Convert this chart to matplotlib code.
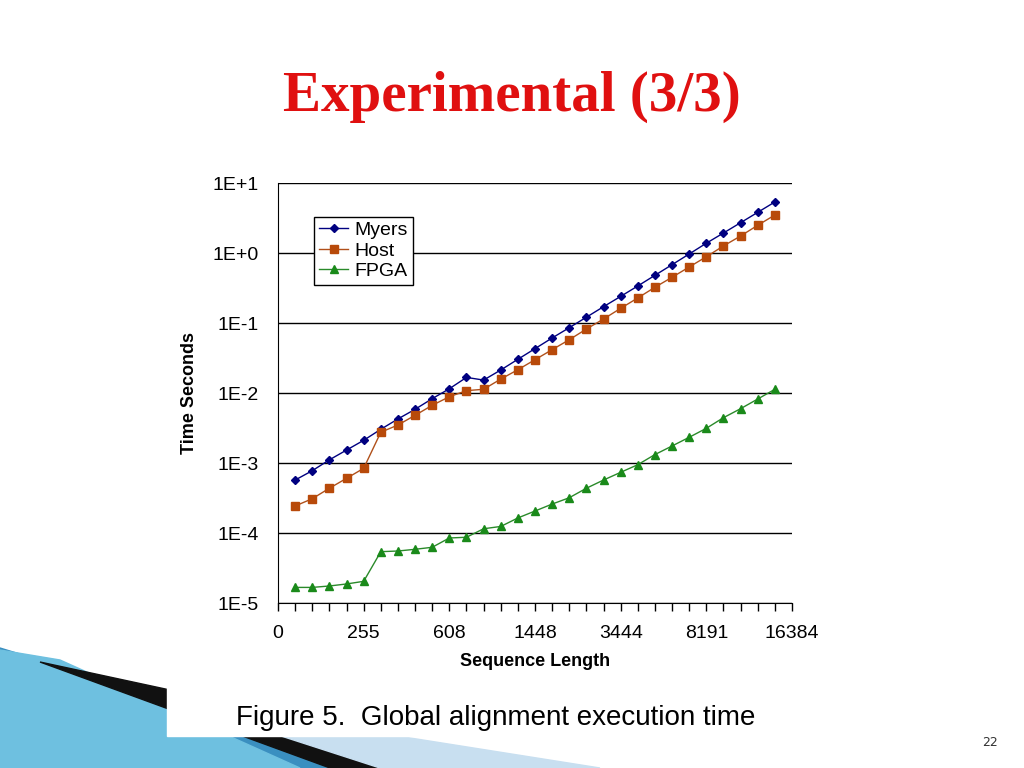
import matplotlib
matplotlib.use("Agg")
import matplotlib.pyplot as plt
from matplotlib.patches import Polygon, Rectangle

x_labels = ["0", "255", "608", "1448", "3444", "8191", "16384"]
positions = list(range(1, 30))
myers = [5.71e-4, 7.76e-4, 1.11e-3, 1.53e-3, 2.11e-3, 3.03e-3, 4.26e-3, 5.85e-3, 8.30e-3,
         1.15e-2, 1.67e-2, 1.53e-2, 2.13e-2, 3.03e-2, 4.30e-2, 6.11e-2, 8.57e-2, 0.121, 0.171,
         0.240, 0.338, 0.480, 0.681, 0.968, 1.38, 1.93, 2.71, 3.81, 5.36]
host = [2.43e-4, 3.09e-4, 4.36e-4, 6.04e-4, 8.39e-4, 2.75e-3, 3.49e-3, 4.80e-3, 6.67e-3,
        8.85e-3, 1.08e-2, 1.13e-2, 1.58e-2, 2.15e-2, 2.99e-2, 4.16e-2, 5.77e-2, 8.20e-2, 0.114,
        0.162, 0.228, 0.324, 0.450, 0.631, 0.885, 1.26, 1.75, 2.49, 3.49]
fpga = [1.67e-5, 1.67e-5, 1.75e-5, 1.87e-5, 2.04e-5, 5.41e-5, 5.53e-5, 5.85e-5, 6.25e-5,
        8.49e-5, 8.69e-5, 1.15e-4, 1.24e-4, 1.64e-4, 2.06e-4, 2.59e-4, 3.19e-4, 4.36e-4,
        5.71e-4, 7.36e-4, 9.46e-4, 1.32e-3, 1.75e-3, 2.33e-3, 3.13e-3, 4.44e-3, 5.97e-3,
        8.20e-3, 1.13e-2]
y_labels = ["1E-5", "1E-4", "1E-3", "1E-2", "1E-1", "1E+0", "1E+1"]

fig = plt.figure(figsize=(10.24, 7.68), dpi=100)
fig.patch.set_facecolor("white")

bg = fig.add_axes([0, 0, 1, 1], zorder=0)
bg.set_xlim(0, 1024); bg.set_ylim(768, 0); bg.axis("off")
bg.add_patch(Polygon([[0, 648], [0, 768], [380, 768], [170, 700]], closed=True, color="#3a8fc0"))
bg.add_patch(Polygon([[0, 650], [60, 660], [300, 768], [0, 768]], closed=True, color="#6ec0e0"))
bg.add_patch(Polygon([[40, 662], [170, 690], [380, 768], [330, 768]], closed=True, color="#111111"))
bg.add_patch(Polygon([[170, 700], [600, 768], [380, 768]], closed=True, color="#c8dff0"))
bg.add_patch(Rectangle((167, 684), 581, 52, color="white"))
bg.text(236, 718, "Figure 5.  Global alignment execution time", fontsize=20,
        family="Liberation Sans", va="center", ha="left")
bg.text(990, 742, "22", fontsize=9, color="#333333", ha="center", va="center")
bg.text(512, 97, "Experimental (3/3)", fontsize=41, fontweight="bold", color="#e01010",
        family="Liberation Serif", ha="center", va="center")

ax = fig.add_axes([278/1024, 1-603/768, (792-278)/1024, (603-183)/768], zorder=1)
ax.set_yscale("log")
ax.plot(positions, myers, color="#000080", marker="D", markersize=4, lw=1, label="Myers")
ax.plot(positions, host, color="#b0501a", marker="s", markersize=6, lw=1, label="Host",
        markerfacecolor="#b84a0a", markeredgecolor="#b84a0a")
ax.plot(positions, fpga, color="#2a8a2a", marker="^", markersize=6, lw=1, label="FPGA",
        markerfacecolor="#1a8a1a", markeredgecolor="#1a8a1a")
ax.set_xlim(0, 30)
ax.set_ylim(1e-5, 10)
ax.set_xticks(range(0, 31, 5))
ax.set_xticklabels(x_labels, family="Liberation Sans", fontsize=14)
ax.set_xticks(range(0, 31), minor=True)
ax.tick_params(axis="x", which="both", direction="out", length=6, width=1, pad=10)
ticks = [1e-5, 1e-4, 1e-3, 1e-2, 1e-1, 1, 10]
ax.set_yticks(ticks)
ax.set_yticklabels(y_labels, family="Liberation Sans", fontsize=14)
ax.yaxis.set_minor_locator(matplotlib.ticker.NullLocator())
ax.tick_params(axis="y", length=0, pad=14)
ax.grid(axis="y", color="black", lw=1)
for s in ["top", "right"]:
    ax.spines[s].set_visible(False)
ax.set_xlabel("Sequence Length", family="Liberation Sans", fontsize=13, fontweight="bold",
              labelpad=8)
ax.set_ylabel("Time Seconds", family="Liberation Sans", fontsize=13, fontweight="bold",
              labelpad=10)
leg = ax.legend(loc="upper left", bbox_to_anchor=(0.052, 0.943), fancybox=False,
                edgecolor="black", prop={"family": "Liberation Sans", "size": 14},
                handlelength=1.5, handletextpad=0.3, borderpad=0.25, labelspacing=0.15,
                framealpha=1)
leg.get_frame().set_linewidth(1)

fig.savefig("out.png", dpi=100)
